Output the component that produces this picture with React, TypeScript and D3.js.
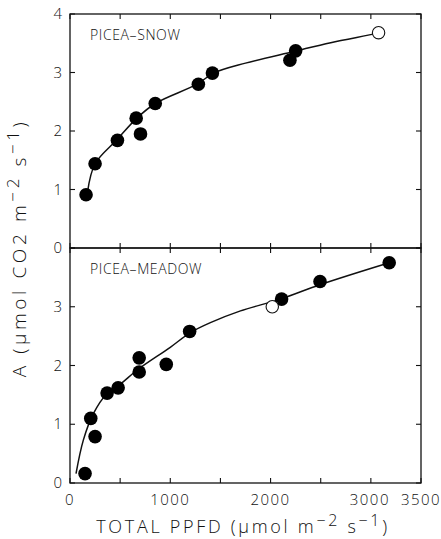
import React from 'react';
import * as d3 from 'd3';

// PICEA-SNOW observations (PPFD, A)
const snowPPFD = [160, 250, 473, 660, 703, 850, 1280, 1420, 2193, 2250];
const snowA = [0.91, 1.44, 1.84, 2.22, 1.95, 2.47, 2.8, 2.99, 3.21, 3.37];
const snowOpenPPFD = [3077];
const snowOpenA = [3.68];
// fitted curve
const snowCurvePPFD = [175, 250, 467, 667, 850, 1267, 1433, 1750, 2233, 2600, 3033, 3077];
const snowCurveA = [0.96, 1.44, 1.85, 2.22, 2.47, 2.8, 2.99, 3.16, 3.36, 3.51, 3.66, 3.68];

// PICEA-MEADOW observations
const meadowPPFD = [150, 207, 250, 370, 480, 690, 690, 960, 1193, 2110, 2493, 3183];
const meadowA = [0.16, 1.1, 0.79, 1.53, 1.62, 2.13, 1.89, 2.02, 2.58, 3.13, 3.43, 3.75];
const meadowOpenPPFD = [2017];
const meadowOpenA = [3.0];
const meadowCurvePPFD = [60, 133, 233, 367, 500, 683, 1000, 1200, 1400, 1700, 2100, 2500, 3183];
const meadowCurveA = [0.16, 0.73, 1.18, 1.52, 1.68, 1.94, 2.31, 2.56, 2.73, 2.93, 3.13, 3.38, 3.75];

const xTickLabels = ['0', '1000', '2000', '3000', '3500'];
const xTickValues = [0, 1000, 2000, 3000, 3500];
const yTickValues = [0, 1, 2, 3, 4];

const FONT = '"Open Sans", "Liberation Sans", sans-serif';
const INK = '#111';

const x = d3.scaleLinear().domain([0, 3500]).range([70, 421]);

function Panel({ y, label, px, py, opx, opy, cx, cy, topLabels }) {
  const line = d3.line<number>()
    .x((d, i) => x(cx[i]))
    .y((d, i) => y(cy[i]))
    .curve(d3.curveCatmullRom.alpha(0.5));
  const [y0, y1] = y.range();
  const minorX = d3.range(0, 3501, 500);
  return (
    <g>
      <rect x={x(0)} y={y1} width={x(3500) - x(0)} height={y0 - y1} fill="none" stroke={INK} strokeWidth={1.3} />
      {minorX.map(v => (
        <g key={'xt' + v}>
          <line x1={x(v)} x2={x(v)} y1={y0} y2={y0 - 5} stroke={INK} strokeWidth={1.1} />
          <line x1={x(v)} x2={x(v)} y1={y1} y2={y1 + 5} stroke={INK} strokeWidth={1.1} />
        </g>
      ))}
      {yTickValues.map(v => (
        <g key={'yt' + v}>
          <line x1={x(0)} x2={x(0) + 5} y1={y(v)} y2={y(v)} stroke={INK} strokeWidth={1.1} />
          <line x1={x(3500)} x2={x(3500) - 5} y1={y(v)} y2={y(v)} stroke={INK} strokeWidth={1.1} />
        </g>
      ))}
      {yTickValues.filter(v => topLabels || v < 4).map(v => (
        <text key={'yl' + v} x={62} y={y(v) + 5} textAnchor="end" fontSize={15} fontWeight={300}
          fontFamily={FONT} fill={INK}>{v}</text>
      ))}
      <path d={line(cx) || ''} fill="none" stroke={INK} strokeWidth={1.5} />
      {px.map((v, i) => (
        <circle key={'p' + i} cx={x(v)} cy={y(py[i])} r={6.8} fill="#000" />
      ))}
      {opx.map((v, i) => (
        <circle key={'o' + i} cx={x(v)} cy={y(opy[i])} r={6.2} fill="#fff" stroke={INK} strokeWidth={1.1} />
      ))}
      <text x={90} y={y1 + 26} fontSize={14} fontWeight={300} letterSpacing={0.6}
        fontFamily={FONT} fill={INK}>{label}</text>
    </g>
  );
}

export default function App() {
  const yTop = d3.scaleLinear().domain([0, 4]).range([248, 14]);
  const yBot = d3.scaleLinear().domain([0, 4]).range([483, 248]);
  return (
    <svg width={441} height={539} style={{ position: 'absolute', left: 0, top: 0, background: '#fff' }}>
      <rect width={441} height={539} fill="#fff" />
      <Panel y={yTop} label="PICEA–SNOW" px={snowPPFD} py={snowA} opx={snowOpenPPFD} opy={snowOpenA}
        cx={snowCurvePPFD} cy={snowCurveA} topLabels={true} />
      <Panel y={yBot} label="PICEA–MEADOW" px={meadowPPFD} py={meadowA} opx={meadowOpenPPFD} opy={meadowOpenA}
        cx={meadowCurvePPFD} cy={meadowCurveA} topLabels={false} />
      {xTickValues.map((v, i) => (
        <text key={'xl' + v} x={x(v) + (v === 3000 ? -1 : 0)} y={505} textAnchor="middle" fontSize={15}
          fontWeight={300} letterSpacing={1.5} fontFamily={FONT} fill={INK}>{xTickLabels[i]}</text>
      ))}
      <text x={243} y={533} textAnchor="middle" fontSize={18} fontWeight={300} letterSpacing={2.7}
        fontFamily={FONT} fill={INK}>
        TOTAL PPFD (μmol m<tspan dy={-7} fontSize={16}>−2</tspan><tspan dy={7}> s</tspan><tspan dy={-7} fontSize={16}>−1</tspan><tspan dy={7}>)</tspan>
      </text>
      <text transform="translate(26,248) rotate(-90)" textAnchor="middle" fontSize={19} fontWeight={300}
        letterSpacing={3.6} fontFamily={FONT} fill={INK}>
        A (μmol CO2 m<tspan dy={-7} fontSize={17}>−2</tspan><tspan dy={7}> s</tspan><tspan dy={-7} fontSize={17}>−1</tspan><tspan dy={7}>)</tspan>
      </text>
    </svg>
  );
}
